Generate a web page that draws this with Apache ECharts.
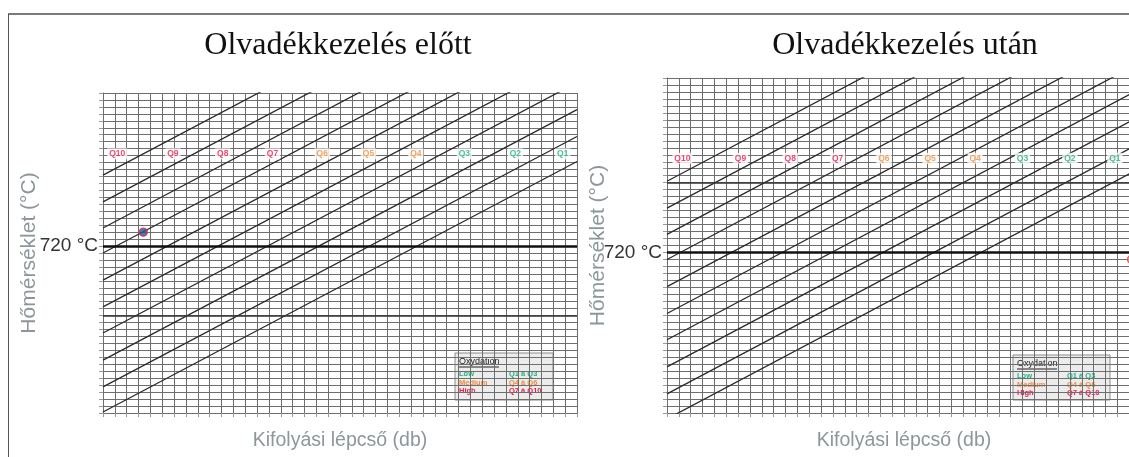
<!DOCTYPE html>
<html>
<head>
<meta charset="utf-8">
<script src="https://cdn.jsdelivr.net/npm/echarts@6/dist/echarts.min.js"></script>
<style>
html,body{margin:0;padding:0;background:#fff;}
#chart{width:1129px;height:457px;}
</style>
</head>
<body>
<div id="chart"></div>
<script>
// ---------- data ----------
const panelTitles = ['Olvadékkezelés előtt', 'Olvadékkezelés után'];
const xAxisName = 'Kifolyási lépcső (db)';
const yAxisName = 'Hőmérséklet (°C)';
const qNames = ['Q10','Q9','Q8','Q7','Q6','Q5','Q4','Q3','Q2','Q1'];
const qLevel = ['High','High','High','High','Medium','Medium','Medium','Low','Low','Low'];
// temperature of each Q line at step 0 and at step 40
const lineT0  = [740.4, 732.7, 725.2, 718.0, 710.2, 702.5, 695.0, 687.2, 679.5, 672.3];
const lineT40 = [812.4, 804.7, 797.2, 790.0, 782.2, 774.5, 767.0, 759.2, 751.5, 744.3];
const stepRange = [0, 40];
const tempRangeBefore = [672, 764];
const tempRangeAfter = [674, 770];
const labelStepsBefore = [1.2, 5.9, 10.1, 14.3, 18.5, 22.4, 26.4, 30.5, 34.8, 38.8];
const labelStepsAfter  = [1.3, 6.2, 10.4, 14.4, 18.3, 22.2, 26.0, 30.0, 34.0, 37.8];
const labelTempBefore = 746.5;
const labelTempAfter = 747;
const refTemp = 720;
const majorTempsBefore = [700];
const majorTempsAfter = [740];
const pointBefore = [3.4, 724];
const pointAfter = [39.2, 718];
const legendTitle = 'Oxydation';
const legendLevels = ['Low', 'Medium', 'High'];
const legendRanges = ['Q1 à Q3', 'Q4 à Q6', 'Q7 à Q10'];

// ---------- styles ----------
const levelColor = {Low: '#1fb27f', Medium: '#f08c3a', High: '#ea1a4e'};
const gridColor = '#6e6e6e';
const sansFont = 'Liberation Sans, Arial, sans-serif';
const xNameStyle = {color: '#8d979b', fontSize: 19.5, fontFamily: sansFont};
const yNameStyle = {color: '#8d979b', fontSize: 21, fontFamily: sansFont};

const grids = [
  {left: 103, top: 93, width: 474, height: 320, outerBoundsMode: 'none', containLabel: false},
  {left: 667, top: 78, width: 474, height: 335, outerBoundsMode: 'none', containLabel: false}
];
const tempRanges = [tempRangeBefore, tempRangeAfter];
const majorTemps = [majorTempsBefore, majorTempsAfter];
const labelSteps = [labelStepsBefore, labelStepsAfter];
const labelTemps = [labelTempBefore, labelTempAfter];
const points = [pointBefore, pointAfter];
const pointStyles = [
  {color: '#1d5a95', borderColor: '#e0304a', borderWidth: 1.5},
  {color: '#f2a04e', borderColor: '#e0407a', borderWidth: 1.5}
];
const yNameGaps = [63, 58];

const xAxes = grids.map((g, i) => ({
  gridIndex: i, type: 'value', min: stepRange[0], max: stepRange[1], interval: 1,
  axisLine: {show: true, lineStyle: {color: gridColor, width: 1}},
  axisTick: {show: true, length: 4, lineStyle: {color: '#999'}}, axisLabel: {show: false},
  splitLine: {show: true, lineStyle: {color: gridColor, width: 1}},
  name: xAxisName, nameLocation: 'middle', nameGap: 18, nameMoveOverlap: false, nameTextStyle: xNameStyle
}));
const yAxes = grids.map((g, i) => ({
  gridIndex: i, type: 'value', min: tempRanges[i][0], max: tempRanges[i][1], interval: 2,
  axisLine: {show: true, lineStyle: {color: gridColor, width: 1}},
  axisTick: {show: true, length: 4, lineStyle: {color: '#999'}},
  axisLabel: {show: true, margin: 5, fontSize: 19, color: '#333', fontFamily: sansFont,
    formatter: v => (v === refTemp ? refTemp + ' °C' : '')},
  splitLine: {show: true, lineStyle: {color: gridColor, width: 1}},
  name: yAxisName, nameLocation: 'middle', nameRotate: 90, nameGap: yNameGaps[i],
  nameMoveOverlap: false, nameTextStyle: yNameStyle
}));

const series = [];
grids.forEach((g, p) => {
  qNames.forEach((q, k) => {
    series.push({
      type: 'line', xAxisIndex: p, yAxisIndex: p, clip: true, silent: true,
      symbol: 'none', lineStyle: {color: '#2a2a2a', width: 1.3},
      data: [[stepRange[0], lineT0[k]], [stepRange[1], lineT40[k]]],
      z: 3
    });
  });
  series.push({
    type: 'line', xAxisIndex: p, yAxisIndex: p, data: [], silent: true,
    markLine: {
      silent: true, symbol: ['none', 'none'], label: {show: false}, animation: false,
      data: [
        {yAxis: refTemp, lineStyle: {color: '#111', width: 2.6, type: 'solid'}},
        ...majorTemps[p].map(t => ({yAxis: t, lineStyle: {color: '#333', width: 1.6, type: 'solid'}}))
      ]
    }, z: 4
  });
  series.push({
    type: 'scatter', xAxisIndex: p, yAxisIndex: p, symbolSize: 0, silent: true, z: 6,
    data: qNames.map((q, k) => ({
      value: [labelSteps[p][k], labelTemps[p]], name: q,
      label: {color: levelColor[qLevel[k]]}
    })),
    label: {show: true, position: 'inside', formatter: '{b}', fontSize: 8.5, fontWeight: 'bold',
      fontFamily: sansFont, backgroundColor: '#fff', padding: [1, 2]}
  });
  series.push({
    type: 'scatter', xAxisIndex: p, yAxisIndex: p, symbolSize: 8, z: 7,
    itemStyle: pointStyles[p], data: [points[p]]
  });
});

function legendBox(x, y, w, h) {
  const children = [
    {type: 'rect', shape: {x: 0, y: 0, width: w, height: h},
     style: {fill: '#ececec', stroke: '#8a8a8a', lineWidth: 1}},
    {type: 'text', x: 4, y: 4, style: {text: legendTitle, fill: '#222', font: '9px Liberation Sans, Arial'}},
    {type: 'line', shape: {x1: 4, y1: 14, x2: 44, y2: 14}, style: {stroke: '#222', lineWidth: 1}}
  ];
  legendLevels.forEach((lv, r) => {
    children.push({type: 'text', x: 4, y: 17 + r * 8.5,
      style: {text: lv, fill: levelColor[lv], font: 'bold 7.5px Liberation Sans, Arial'}});
    children.push({type: 'text', x: 54, y: 17 + r * 8.5,
      style: {text: legendRanges[r], fill: levelColor[lv], font: 'bold 7.5px Liberation Sans, Arial'}});
  });
  return {type: 'group', x: x, y: y, z: 100, children: children};
}

const option = {
  animation: false,
  backgroundColor: '#fff',
  grid: grids,
  xAxis: xAxes,
  yAxis: yAxes,
  series: series,
  graphic: [
    {type: 'line', shape: {x1: 8, y1: 14, x2: 1129, y2: 14}, style: {stroke: '#7a7a7a', lineWidth: 2}},
    {type: 'line', shape: {x1: 8.5, y1: 14, x2: 8.5, y2: 457}, style: {stroke: '#555', lineWidth: 1}},
    {type: 'text', x: 338, y: 46, style: {text: panelTitles[0], textAlign: 'center', textVerticalAlign: 'middle',
      font: '32px Liberation Serif, Times New Roman, serif', fill: '#111'}},
    {type: 'text', x: 905, y: 46, style: {text: panelTitles[1], textAlign: 'center', textVerticalAlign: 'middle',
      font: '32px Liberation Serif, Times New Roman, serif', fill: '#111'}},
    legendBox(455, 353, 98, 47),
    legendBox(1013, 355, 97, 45)
  ]
};

const chart = echarts.init(document.getElementById('chart'), null, {renderer: 'canvas'});
chart.setOption(option);
</script>
</body>
</html>
